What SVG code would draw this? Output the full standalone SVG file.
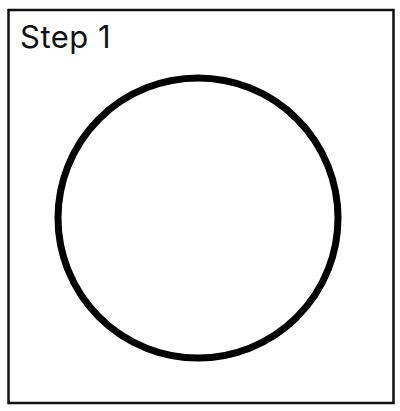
<svg xmlns="http://www.w3.org/2000/svg" width="400" height="411" viewBox="0 0 400 411">
<style>
.frame{fill:#fff;stroke:#111;stroke-width:2.5}
.ring{fill:none;stroke:#000;stroke-width:7}
.label{font-family:Inter,"Open Sans","Liberation Sans",sans-serif;font-size:31px;letter-spacing:0.5px;fill:#111}
</style>
<rect x="0" y="0" width="400" height="411" fill="#fff"/>
<g id="frame"><rect class="frame" x="8.5" y="10" width="385" height="393"/></g>
<g id="title"><text class="label" x="20" y="48">Step 1</text></g>
<g id="circle"><circle class="ring" cx="198" cy="218" r="140"/></g>
</svg>
